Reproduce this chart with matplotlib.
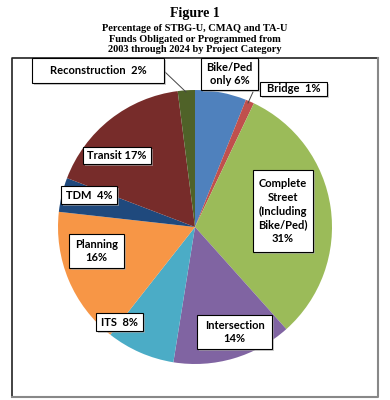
import matplotlib.pyplot as plt
from matplotlib.patches import Rectangle
from matplotlib.lines import Line2D

# data
categories = ['Bike/Ped only', 'Bridge', 'Complete Street (Including Bike/Ped)',
              'Intersection', 'ITS', 'Planning', 'TDM', 'Transit', 'Reconstruction']
shares = [6, 1, 31, 14, 8, 16, 4, 17, 2]
labels = ['Bike/Ped\nonly 6%', 'Bridge  1%', 'Complete\nStreet\n(Including\nBike/Ped)\n31%',
          'Intersection\n14%', 'ITS  8%', 'Planning\n16%', 'TDM  4%', 'Transit 17%',
          'Reconstruction  2%']
colors = ['#4F81BD', '#C0504D', '#9BBB59', '#8064A2', '#4BACC6',
          '#F79646', '#1F497D', '#772C2A', '#4F6228']

W, H = 390, 400
fig = plt.figure(figsize=(3.9, 4.0), dpi=100)

def px(x, y):
    return x / W, 1 - y / H

# title
fig.text(*px(195, 14), 'Figure 1', ha='center', va='center',
         fontsize=10, fontweight='bold', family='Liberation Serif')
fig.text(*px(195, 39), 'Percentage of STBG-U, CMAQ and TA-U\nFunds Obligated or Programmed from\n2003 through 2024 by Project Category',
         ha='center', va='center', fontsize=7.5, fontweight='bold',
         family='Liberation Serif', linespacing=1.15)

# outer frame: dark top/left, grey bottom/right
fig.add_artist(Line2D([12 / W, 12 / W, 378 / W], [1 - 397 / H, 1 - 58 / H, 1 - 58 / H],
                      transform=fig.transFigure, color='#222222', lw=1.2))
fig.add_artist(Line2D([12 / W, 378 / W, 378 / W], [1 - 397 / H, 1 - 397 / H, 1 - 58 / H],
                      transform=fig.transFigure, color='#888888', lw=1.5))

# pie
cx, cy, r = 195, 227, 137
ax = fig.add_axes([(cx - r) / W, 1 - (cy + r) / H, 2 * r / W, 2 * r / H])
ax.pie(shares, colors=colors, startangle=90, counterclock=False,
       wedgeprops=dict(linewidth=0))
ax.set_xlim(-1, 1)
ax.set_ylim(-1, 1)
ax.axis('off')

# leader lines
for (x0, y0), (x1, y1) in [((165, 72), (186, 92)), ((253, 92), (248, 103))]:
    fig.add_artist(Line2D([x0 / W, x1 / W], [1 - y0 / H, 1 - y1 / H],
                          transform=fig.transFigure, color='#444444', lw=0.7))

# label boxes (left, top, right, bottom) in pixels
boxes = [(201, 58, 258, 90), (260, 82, 327, 96), (253, 170, 313, 252),
         (197, 315, 272, 349), (96, 313, 143, 331), (69, 234, 124, 268),
         (61, 186, 117, 204), (83, 147, 151, 164), (32, 58, 164, 83)]
for (l, t, rr, b), txt in zip(boxes, labels):
    fig.patches.append(Rectangle(px(l + 2, b + 2), (rr - l) / W, (b - t) / H,
                                 transform=fig.transFigure, facecolor='#aaaaaa',
                                 edgecolor='none', alpha=0.6, zorder=5))
    fig.patches.append(Rectangle(px(l, b), (rr - l) / W, (b - t) / H,
                                 transform=fig.transFigure, facecolor='white',
                                 edgecolor='black', lw=0.8, zorder=6))
    fig.text(*px((l + rr) / 2, (t + b) / 2), txt, ha='center', va='center',
             fontsize=8, fontweight='bold', family='Lato', linespacing=1.3, zorder=7)

fig.savefig('out.png', dpi=100)
